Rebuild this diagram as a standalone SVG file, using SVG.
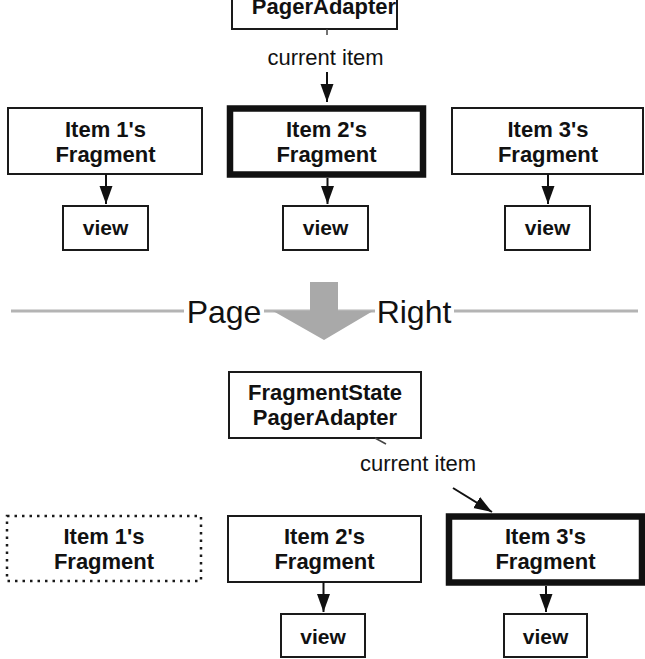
<svg xmlns="http://www.w3.org/2000/svg" width="645" height="659" viewBox="0 0 645 659">
  <style>
    .box { fill: #fff; stroke: #1a1a1a; stroke-width: 2; }
    .thick { fill: #fff; stroke: #111; stroke-width: 6.5; }
    .dotted { fill: #fff; stroke: #1a1a1a; stroke-width: 2.5; stroke-dasharray: 2.5 5; }
    .lbl { font-family: "Liberation Sans", Arial, sans-serif; font-weight: bold; font-size: 22px; fill: #111; text-anchor: middle; }
    .vlbl { font-family: "Liberation Sans", Arial, sans-serif; font-weight: bold; font-size: 21px; fill: #111; text-anchor: middle; }
    .note { font-family: "Liberation Sans", Arial, sans-serif; font-size: 22px; fill: #111; text-anchor: middle; }
    .big { font-family: "Liberation Sans", Arial, sans-serif; font-size: 32px; fill: #111; text-anchor: middle; }
    .conn { stroke: #111; stroke-width: 2; fill: none; }
    .arr { marker-end: url(#ah); }
    .tick { stroke: #444; stroke-width: 1.5; fill: none; }
    .gline { stroke: #b4b4b4; stroke-width: 3; fill: none; }
  </style>
  <defs>
    <marker id="ah" markerUnits="userSpaceOnUse" markerWidth="18" markerHeight="14" refX="18" refY="6.5" orient="auto">
      <path d="M0,0 L18,6.5 L0,13 Z" fill="#111"/>
    </marker>
  </defs>

  <rect width="645" height="659" fill="#fff"/>

  <!-- Top adapter (cropped at the top edge, as in the reference) -->
  <g id="adapter-top">
    <rect class="box" x="232" y="-40" width="165" height="69"/>
    <text class="lbl" x="324" y="14">PagerAdapter</text>
  </g>

  <g id="item1-top">
    <rect class="box" x="8" y="108" width="194" height="66"/>
    <text class="lbl" x="105.5" y="137">Item 1's</text>
    <text class="lbl" x="105.5" y="162">Fragment</text>
  </g>
  <g id="item2-top">
    <rect class="thick" x="230" y="108.5" width="193" height="66"/>
    <text class="lbl" x="326.5" y="137">Item 2's</text>
    <text class="lbl" x="326.5" y="162">Fragment</text>
  </g>
  <g id="item3-top">
    <rect class="box" x="452" y="108" width="191" height="66"/>
    <text class="lbl" x="548" y="137">Item 3's</text>
    <text class="lbl" x="548" y="162">Fragment</text>
  </g>

  <g id="view1-top">
    <rect class="box" x="63" y="206" width="85" height="44"/>
    <text class="vlbl" x="105.5" y="235">view</text>
  </g>
  <g id="view2-top">
    <rect class="box" x="283" y="206" width="85" height="44"/>
    <text class="vlbl" x="325.5" y="235">view</text>
  </g>
  <g id="view3-top">
    <rect class="box" x="505" y="206" width="85" height="44"/>
    <text class="vlbl" x="547.5" y="235">view</text>
  </g>

  <!-- Page Right divider -->
  <g id="page-right">
    <line class="gline" x1="11" y1="311" x2="184" y2="311"/>
    <line class="gline" x1="264" y1="311" x2="375" y2="311"/>
    <line class="gline" x1="454" y1="311" x2="638" y2="311"/>
    <polygon points="310,282 338,282 338,311 373,311 324,340 273,311 310,311" fill="#a9a9a9"/>
    <text class="big" x="224" y="323">Page</text>
    <text class="big" x="414" y="323">Right</text>
  </g>

  <!-- Bottom -->
  <g id="adapter-bottom">
    <rect class="box" x="229" y="372" width="192" height="66"/>
    <text class="lbl" x="325" y="400">FragmentState</text>
    <text class="lbl" x="325" y="425">PagerAdapter</text>
  </g>

  <g id="item1-bottom">
    <rect class="dotted" x="7" y="516" width="194" height="65"/>
    <text class="lbl" x="104" y="544">Item 1's</text>
    <text class="lbl" x="104" y="569">Fragment</text>
  </g>
  <g id="item2-bottom">
    <rect class="box" x="228" y="516" width="193" height="66"/>
    <text class="lbl" x="324.5" y="544">Item 2's</text>
    <text class="lbl" x="324.5" y="569">Fragment</text>
  </g>
  <g id="item3-bottom">
    <rect class="thick" x="449" y="516.5" width="193" height="66"/>
    <text class="lbl" x="545.5" y="544">Item 3's</text>
    <text class="lbl" x="545.5" y="569">Fragment</text>
  </g>

  <g id="view2-bottom">
    <rect class="box" x="281" y="614" width="84" height="43"/>
    <text class="vlbl" x="323" y="644">view</text>
  </g>
  <g id="view3-bottom">
    <rect class="box" x="504" y="614" width="83" height="43"/>
    <text class="vlbl" x="545.5" y="644">view</text>
  </g>

  <text class="note" x="325.5" y="65">current item</text>
  <text class="note" x="418" y="471">current item</text>

  <g id="connectors">
    <line class="tick" x1="327" y1="29" x2="327" y2="35"/>
    <line class="conn arr" x1="327" y1="72" x2="327" y2="102"/>
    <line class="conn arr" x1="106" y1="174" x2="106" y2="204"/>
    <line class="conn arr" x1="327.5" y1="178" x2="327.5" y2="204"/>
    <line class="conn arr" x1="548" y1="174" x2="548" y2="204"/>
    <line class="tick" x1="375" y1="438" x2="386" y2="444"/>
    <line class="conn arr" x1="453" y1="488" x2="492" y2="512"/>
    <line class="conn arr" x1="323.5" y1="582" x2="323.5" y2="612"/>
    <line class="conn arr" x1="546" y1="586" x2="546" y2="612"/>
  </g>
</svg>
